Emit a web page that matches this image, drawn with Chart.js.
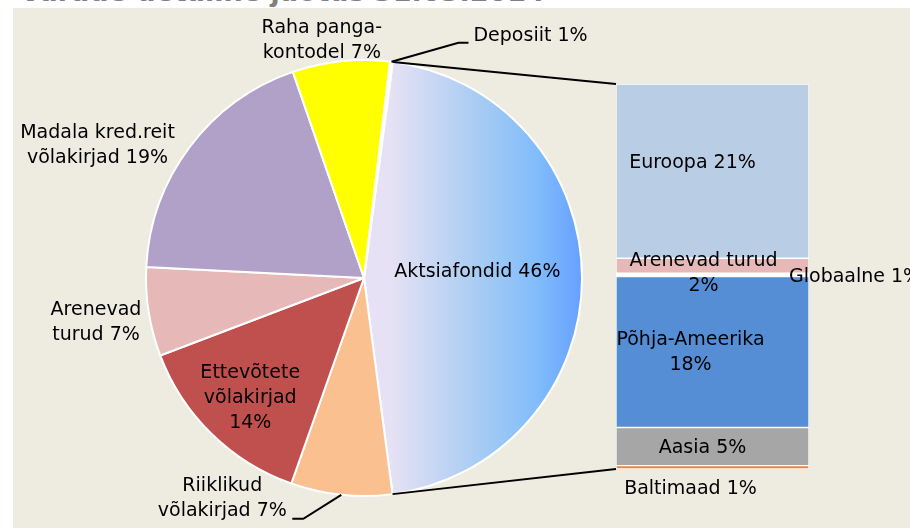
<!DOCTYPE html>
<html>
<head>
<meta charset="utf-8">
<script src="https://cdn.jsdelivr.net/npm/chart.js@4"></script>
<style>
    body { margin: 0; background: #fff; }
    #wrap { position: relative; width: 910px; height: 528px; overflow: hidden; }
    #title { position: absolute; left: 20px; top: -24px; font: bold 27px "DejaVu Sans", sans-serif; color: #808080; white-space: nowrap; }
    #panel { position: absolute; left: 13px; top: 8px; right: 0; bottom: 0; background: #eeece1; }
    canvas { position: absolute; }
</style>
</head>
<body>
<div id="wrap">
    <div id="title">Varade detailne jaotus 31.03.2014</div>
    <div id="panel"></div>
    <canvas id="pie" width="910" height="528" style="left:0;top:0"></canvas>
    <canvas id="bar" width="310" height="468" style="left:600px;top:60px"></canvas>
</div>
<script>
// pie slices, clockwise from the top-right
const pieCategories = ['Aktsiafondid', 'Riiklikud võlakirjad', 'Ettevõtete võlakirjad', 'Arenevad turud', 'Madala kred.reit võlakirjad', 'Raha pangakontodel', 'Deposiit'];
const pieValues = [45.8, 7.5, 13.8, 6.6, 18.9, 7.2, 0.2];
const pieLabelLines = [
    ['Aktsiafondid 46%'],
    ['Riiklikud', 'võlakirjad 7%'],
    ['Ettevõtete', 'võlakirjad', '14%'],
    ['Arenevad', 'turud 7%'],
    ['Madala kred.reit', 'võlakirjad 19%'],
    ['Raha panga-', 'kontodel 7%'],
    ['Deposiit 1%']
];

// breakdown of Aktsiafondid, top to bottom
const barCategories = ['Euroopa', 'Arenevad turud', 'Globaalne', 'Põhja-Ameerika', 'Aasia', 'Baltimaad'];
const barValues = [21, 1.8, 0.4, 18.2, 4.6, 0.4];
const barLabelLines = [
    ['Euroopa 21%'],
    ['Arenevad turud', '2%'],
    ['Globaalne 1%'],
    ['Põhja-Ameerika', '18%'],
    ['Aasia 5%'],
    ['Baltimaad 1%']
];

const pieColors = [null, '#fac090', '#c0504d', '#e6b9b8', '#b1a0c7', '#ffff00', '#ffffff'];
const barColors = ['#b9cde5', '#e6b9b8', '#ffffff', '#558ed5', '#a6a6a6', '#e6843c'];

const FONT = '19px "DejaVu Sans", sans-serif';
const LINE_H = 25;

// label placement: radius factor along the mid angle, plus nudge
const pieLabelPos = [
    { f: 0.52, dx: 0, dy: -6 },
    { leader: [-38, 24, -11], tdx: -70, tdy: -20 },
    { f: 0.76, dx: 2, dy: 2 },
    { f: 1.24, dx: -1, dy: 2 },
    { f: 1.30, dx: -40, dy: 38 },
    { f: 1.09, dx: -17, dy: -1 },
    { leader: [67, -19, 10], tdx: 5, tdy: -7, left: true }
];
const barLabelPos = [
    { dx: -20, dy: -8 },
    { dx: -9, dy: 8 },
    { dx: -20, dy: 2, right: true },
    { dx: -22, dy: 1 },
    { dx: -10, dy: 1 },
    { dx: -22, dy: 22 }
];

function drawLines(ctx, lines, x, y, align) {
    ctx.save();
    ctx.font = FONT;
    ctx.fillStyle = '#000';
    ctx.textAlign = align || 'center';
    ctx.textBaseline = 'middle';
    const top = y - (lines.length - 1) * LINE_H / 2;
    lines.forEach((l, i) => ctx.fillText(l, x, top + i * LINE_H));
    ctx.restore();
}

// ---- bar of pie ----
const barDatasets = barCategories.map((c, i) => ({
    label: c,
    data: [barValues[i]],
    backgroundColor: barColors[i],
    borderColor: '#ffffff',
    borderWidth: 1,
    borderSkipped: false,
    categoryPercentage: 1,
    barPercentage: 1
})).reverse();

const barTotal = barValues.reduce((a, b) => a + b, 0);

const barLabelsPlugin = {
    id: 'barLabels',
    afterDatasetsDraw(chart) {
        const ctx = chart.ctx;
        const n = barCategories.length;
        barCategories.forEach((c, i) => {
            const el = chart.getDatasetMeta(n - 1 - i).data[0];
            const cy = (el.y + el.base) / 2;
            const p = barLabelPos[i];
            if (p.right) {
                drawLines(ctx, barLabelLines[i], el.x + el.width / 2 + p.dx, cy + p.dy, 'left');
            } else {
                drawLines(ctx, barLabelLines[i], el.x + p.dx, cy + p.dy);
            }
        });
    }
};

const barChart = new Chart(document.getElementById('bar'), {
    type: 'bar',
    data: { labels: ['Aktsiafondid'], datasets: barDatasets },
    options: {
        responsive: false,
        animation: false,
        events: [],
        layout: { padding: { left: 16, right: 101, top: 24, bottom: 59 } },
        plugins: { legend: { display: false }, tooltip: { enabled: false } },
        scales: {
            x: { display: false, stacked: true },
            y: { display: false, stacked: true, min: 0, max: barTotal }
        }
    },
    plugins: [barLabelsPlugin]
});

// ---- pie ----
const pieLabelsPlugin = {
    id: 'pieLabels',
    afterDatasetsDraw(chart) {
        const ctx = chart.ctx;
        const arcs = chart.getDatasetMeta(0).data;

        // connectors from Aktsiafondid edges to the bar corners
        const a0 = arcs[0];
        const n = barCategories.length;
        const topEl = barChart.getDatasetMeta(n - 1).data[0];
        const botEl = barChart.getDatasetMeta(0).data[0];
        const ox = 600, oy = 60;
        const bx = topEl.x - topEl.width / 2 + ox;
        ctx.save();
        ctx.strokeStyle = '#000';
        ctx.lineWidth = 2;
        ctx.beginPath();
        ctx.moveTo(a0.x + a0.outerRadius * Math.cos(a0.startAngle), a0.y + a0.outerRadius * Math.sin(a0.startAngle));
        ctx.lineTo(bx, topEl.y + oy);
        ctx.moveTo(a0.x + a0.outerRadius * Math.cos(a0.endAngle), a0.y + a0.outerRadius * Math.sin(a0.endAngle));
        ctx.lineTo(bx, botEl.base + oy);
        ctx.stroke();
        ctx.restore();

        arcs.forEach((arc, i) => {
            const mid = (arc.startAngle + arc.endAngle) / 2;
            const p = pieLabelPos[i];
            if (p.leader) {
                const sx = arc.x + arc.outerRadius * Math.cos(mid);
                const sy = arc.y + arc.outerRadius * Math.sin(mid);
                const ex = sx + p.leader[0], ey = sy + p.leader[1];
                const fx = ex + p.leader[2];
                ctx.save();
                ctx.strokeStyle = '#000';
                ctx.lineWidth = 2;
                ctx.beginPath();
                ctx.moveTo(sx, sy);
                ctx.lineTo(ex, ey);
                ctx.lineTo(fx, ey);
                ctx.stroke();
                ctx.restore();
                drawLines(ctx, pieLabelLines[i], fx + p.tdx, ey + p.tdy, p.left ? 'left' : 'center');
            } else {
                const r = arc.outerRadius * p.f;
                drawLines(ctx, pieLabelLines[i], arc.x + r * Math.cos(mid) + p.dx, arc.y + r * Math.sin(mid) + p.dy);
            }
        });
    }
};

new Chart(document.getElementById('pie'), {
    type: 'pie',
    data: {
        labels: pieCategories,
        datasets: [{
            data: pieValues,
            backgroundColor: function (c) {
                if (c.dataIndex !== 0) return pieColors[c.dataIndex];
                const area = c.chart.chartArea;
                if (!area) return '#8cc0f8';
                const cx = (area.left + area.right) / 2;
                const g = c.chart.ctx.createLinearGradient(cx + 28, 0, area.right, 0);
                g.addColorStop(0, '#e6e1f4');
                g.addColorStop(0.45, '#a8ccf3');
                g.addColorStop(0.75, '#82bdfb');
                g.addColorStop(1, '#66a0ff');
                return g;
            },
            borderColor: '#ffffff',
            borderWidth: 2,
            hoverOffset: 0,
            offset: 0
        }]
    },
    options: {
        responsive: false,
        animation: false,
        events: [],
        rotation: 7.6,
        layout: { padding: { left: 145, right: 327, top: 59, bottom: 31 } },
        plugins: { legend: { display: false }, tooltip: { enabled: false } }
    },
    plugins: [pieLabelsPlugin]
});
</script>
</body>
</html>
